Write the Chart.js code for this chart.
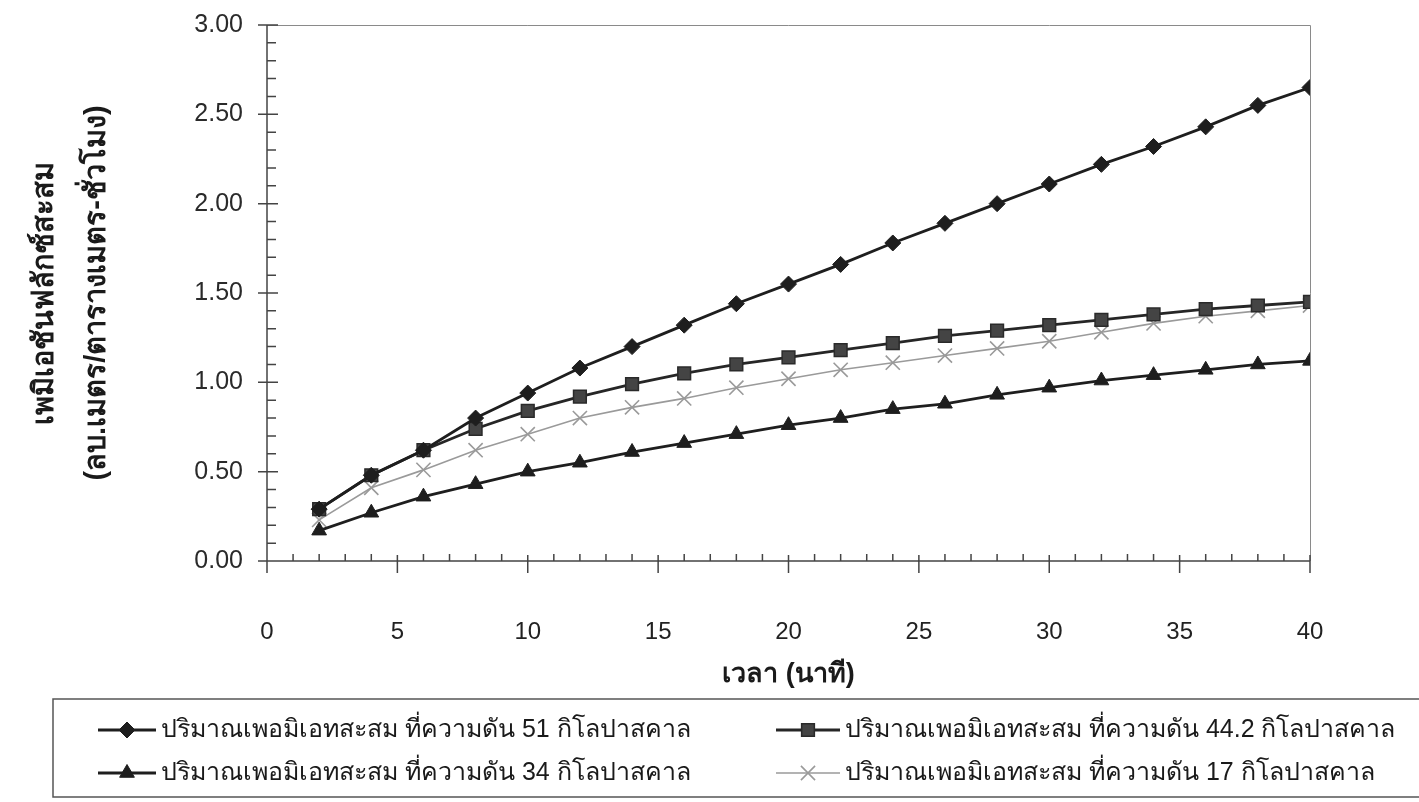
<!DOCTYPE html>
<html>
<head>
<meta charset="utf-8">
<script src="https://cdn.jsdelivr.net/npm/chart.js@4.4.1/dist/chart.umd.min.js"></script>
<style>
  html, body { margin: 0; padding: 0; background: #fff; }
  #wrap { width: 1419px; height: 802px; }
</style>
</head>
<body>
<div id="wrap"><canvas id="fluxChart" width="1419" height="802"></canvas></div>
<script>
// time (min) and accumulated permeation flux for each feed pressure
const timeMin = [2, 4, 6, 8, 10, 12, 14, 16, 18, 20, 22, 24, 26, 28, 30, 32, 34, 36, 38, 40];
const flux51 = [0.29, 0.48, 0.62, 0.80, 0.94, 1.08, 1.20, 1.32, 1.44, 1.55, 1.66, 1.78, 1.89, 2.00, 2.11, 2.22, 2.32, 2.43, 2.55, 2.65];
const flux44 = [0.29, 0.48, 0.62, 0.74, 0.84, 0.92, 0.99, 1.05, 1.10, 1.14, 1.18, 1.22, 1.26, 1.29, 1.32, 1.35, 1.38, 1.41, 1.43, 1.45];
const flux34 = [0.17, 0.27, 0.36, 0.43, 0.50, 0.55, 0.61, 0.66, 0.71, 0.76, 0.80, 0.85, 0.88, 0.93, 0.97, 1.01, 1.04, 1.07, 1.10, 1.12];
const flux17 = [0.23, 0.41, 0.51, 0.62, 0.71, 0.80, 0.86, 0.91, 0.97, 1.02, 1.07, 1.11, 1.15, 1.19, 1.23, 1.28, 1.33, 1.37, 1.40, 1.43];

const seriesLabels = [
  "ปริมาณเพอมิเอทสะสม ที่ความดัน 51 กิโลปาสคาล",
  "ปริมาณเพอมิเอทสะสม ที่ความดัน 44.2 กิโลปาสคาล",
  "ปริมาณเพอมิเอทสะสม ที่ความดัน 34 กิโลปาสคาล",
  "ปริมาณเพอมิเอทสะสม ที่ความดัน 17 กิโลปาสคาล"
];
const yTicks = [0, 0.5, 1, 1.5, 2, 2.5, 3];
const xTicks = [0, 5, 10, 15, 20, 25, 30, 35, 40];

const FONT = '"Liberation Sans", Arial, sans-serif';
const NARROW = '"Liberation Sans Narrow", "Liberation Sans", Arial, sans-serif';

function pts(arr) {
  return timeMin.map((t, i) => ({ x: t, y: arr[i] }));
}

const datasets = [
  { label: seriesLabels[0], data: pts(flux51), borderColor: "#1e1e1e", backgroundColor: "#1e1e1e",
    borderWidth: 2.8, pointStyle: "rectRot", pointRadius: 8, pointBorderWidth: 1 },
  { label: seriesLabels[1], data: pts(flux44), borderColor: "#262626", backgroundColor: "#444",
    borderWidth: 2.8, pointStyle: "rect", pointRadius: 9, pointBorderWidth: 1.5, pointBorderColor: "#2a2a2a" },
  { label: seriesLabels[2], data: pts(flux34), borderColor: "#1e1e1e", backgroundColor: "#1e1e1e",
    borderWidth: 2.8, pointStyle: "triangle", pointRadius: 8.5, pointBorderWidth: 1 },
  { label: seriesLabels[3], data: pts(flux17), borderColor: "#9a9a9a", backgroundColor: "#9a9a9a",
    borderWidth: 1.6, pointStyle: "crossRot", pointRadius: 10, pointBorderWidth: 1.6 }
];

// axis lines, inward minor ticks and the thin frame round the plot
const axisFrame = {
  id: "axisFrame",
  beforeDatasetsDraw(chart) {
    const { ctx, chartArea: a, scales: { x, y } } = chart;
    ctx.save();
    ctx.strokeStyle = "#8a8a8a";
    ctx.lineWidth = 1;
    ctx.beginPath();
    ctx.moveTo(a.left, a.top + 0.5);
    ctx.lineTo(a.right + 0.5, a.top + 0.5);
    ctx.lineTo(a.right + 0.5, a.bottom);
    ctx.stroke();

    ctx.strokeStyle = "#444";
    ctx.lineWidth = 1.5;
    ctx.beginPath();
    ctx.moveTo(a.left, a.top);
    ctx.lineTo(a.left, a.bottom);
    ctx.lineTo(a.right, a.bottom);
    for (let i = 0; i <= 30; i++) {
      const py = y.getPixelForValue(i / 10);
      if (i % 5 === 0) { ctx.moveTo(a.left - 9, py); ctx.lineTo(a.left + 11, py); }
      else { ctx.moveTo(a.left, py); ctx.lineTo(a.left + 9, py); }
    }
    for (let i = 0; i <= 40; i++) {
      const px = x.getPixelForValue(i);
      if (i % 5 === 0) { ctx.moveTo(px, a.bottom + 12); ctx.lineTo(px, a.bottom - 6); }
      else { ctx.moveTo(px, a.bottom); ctx.lineTo(px, a.bottom - 7); }
    }
    ctx.stroke();
    ctx.restore();
  }
};

// boxed two-column legend under the x title
const boxLegend = {
  id: "boxLegend",
  afterDraw(chart) {
    const ctx = chart.ctx;
    ctx.save();
    ctx.strokeStyle = "#555";
    ctx.lineWidth = 1.5;
    ctx.beginPath();
    ctx.moveTo(1419, 699);
    ctx.lineTo(53, 699);
    ctx.lineTo(53, 797);
    ctx.lineTo(1419, 797);
    ctx.stroke();

    const slots = [
      { x0: 98, x1: 156, tx: 161, y: 730 },
      { x0: 776, x1: 840, tx: 845, y: 730 },
      { x0: 98, x1: 156, tx: 161, y: 773 },
      { x0: 776, x1: 840, tx: 845, y: 773 }
    ];
    chart.data.datasets.forEach((ds, i) => {
      const s = slots[i];
      ctx.strokeStyle = ds.borderColor;
      ctx.lineWidth = ds.borderWidth;
      ctx.beginPath();
      ctx.moveTo(s.x0, s.y);
      ctx.lineTo(s.x1, s.y);
      ctx.stroke();
      ctx.fillStyle = ds.backgroundColor;
      ctx.strokeStyle = ds.pointBorderColor || ds.borderColor;
      ctx.lineWidth = ds.pointBorderWidth;
      Chart.helpers.drawPoint(ctx, { pointStyle: ds.pointStyle, radius: ds.pointRadius, rotation: 0, borderWidth: ds.pointBorderWidth },
        (s.x0 + s.x1) / 2, s.y);
      ctx.fillStyle = "#1a1a1a";
      ctx.font = "25px " + FONT;
      ctx.textBaseline = "middle";
      ctx.textAlign = "left";
      ctx.fillText(ds.label, s.tx, s.y);
    });
    ctx.restore();
  }
};

new Chart(document.getElementById("fluxChart"), {
  type: "line",
  data: { datasets },
  options: {
    responsive: false,
    animation: false,
    layout: { padding: { top: 25, right: 109, left: 0, bottom: 0 } },
    plugins: { legend: { display: false }, tooltip: { enabled: false } },
    scales: {
      x: {
        type: "linear", min: 0, max: 40,
        afterFit(s) { s.height = 241; s.paddingLeft = 0; s.paddingRight = 0; },
        afterBuildTicks(s) { s.ticks = xTicks.map(v => ({ value: v })); },
        grid: { display: false, drawTicks: false },
        border: { display: false },
        ticks: { padding: 57, color: "#222", maxRotation: 0, font: { family: NARROW, size: 24 } },
        title: {
          display: true, text: "เวลา (นาที)", color: "#1a1a1a",
          font: { family: FONT, size: 27, weight: "bold" }, padding: { top: 0, bottom: 111 }
        }
      },
      y: {
        type: "linear", min: 0, max: 3,
        afterFit(s) { s.width = 267; s.paddingTop = 0; s.paddingBottom = 0; },
        afterBuildTicks(s) { s.ticks = yTicks.map(v => ({ value: v })); },
        grid: { display: false, drawTicks: false },
        border: { display: false },
        ticks: { padding: 24, color: "#2a2a2a", font: { family: FONT, size: 25 }, callback: v => v.toFixed(2) },
        title: {
          display: true, text: ["เพมิเอชันฟลักซ์สะสม", "(ลบ.เมตร/ตารางเมตร-ชั่วโมง)"], color: "#1a1a1a",
          font: { family: FONT, size: 29, weight: "bold", lineHeight: 1.8 }, padding: { top: 19, bottom: 0 }
        }
      }
    }
  },
  plugins: [axisFrame, boxLegend]
});
</script>
</body>
</html>
